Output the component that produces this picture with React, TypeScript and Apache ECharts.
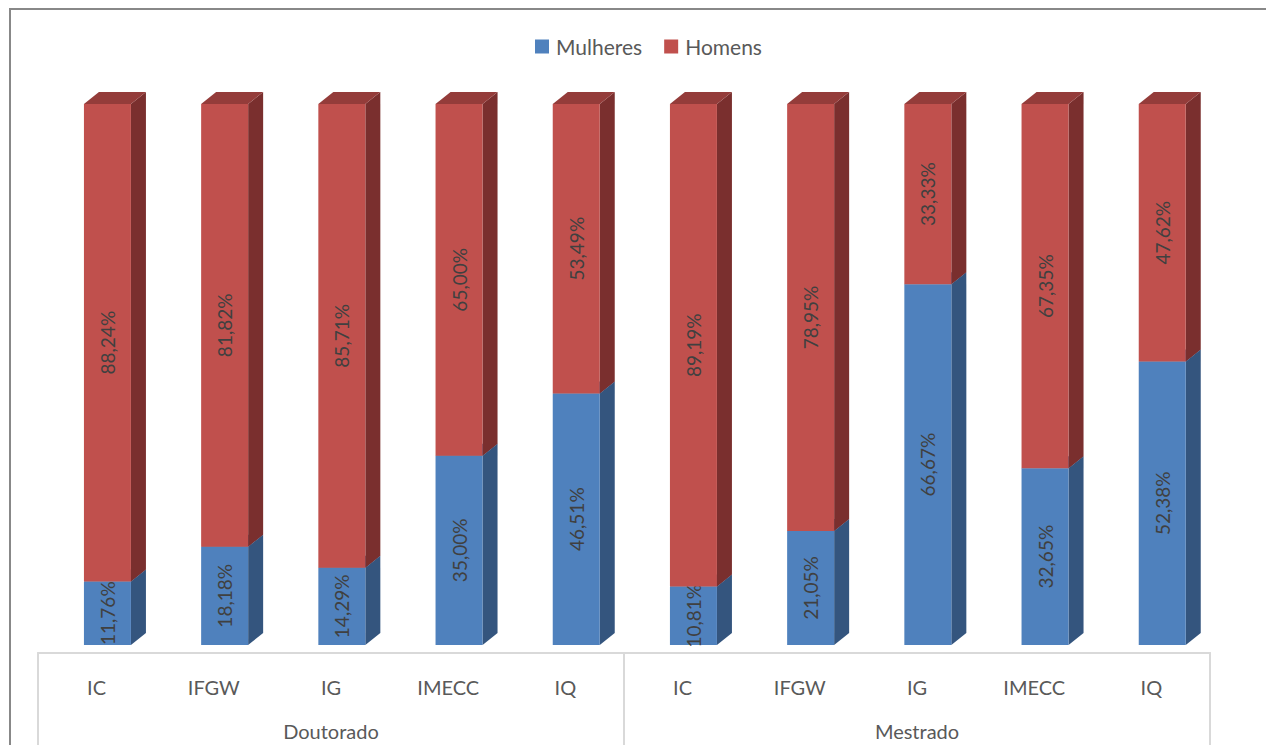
import React, { useEffect, useRef } from "react";
import * as echarts from "echarts";

const categories = ["IC", "IFGW", "IG", "IMECC", "IQ", "IC", "IFGW", "IG", "IMECC", "IQ"];
const groups = ["Doutorado", "Mestrado"];
const mulheres = [11.76, 18.18, 14.29, 35.0, 46.51, 10.81, 21.05, 66.67, 32.65, 52.38];
const homens = [88.24, 81.82, 85.71, 65.0, 53.49, 89.19, 78.95, 33.33, 67.35, 47.62];

const FONT = "Lato, 'Open Sans', sans-serif";

const fmt = (v: number) => v.toFixed(2).replace(".", ",") + "%";

function makeRender(front: string, side: string, top: string) {
  return (params: any, api: any) => {
    const i = api.value(0);
    const start = api.value(1);
    const end = api.value(2);
    const val = api.value(3);
    const band = api.size([1, 0])[0];
    const [cx, y0] = api.coord([i, start]);
    const [, y1] = api.coord([i, end]);
    const w = band * 0.401;
    const x0 = cx - band * 0.108;
    const dx = band * 0.128;
    const dy = 12;
    return {
      type: "group",
      children: [
        {
          type: "polygon",
          shape: { points: [[x0 + w, y0], [x0 + w + dx, y0 - dy], [x0 + w + dx, y1 - dy], [x0 + w, y1]] },
          style: { fill: side },
        },
        {
          type: "polygon",
          shape: { points: [[x0, y1], [x0 + w, y1], [x0 + w + dx, y1 - dy], [x0 + dx, y1 - dy]] },
          style: { fill: top },
        },
        {
          type: "rect",
          shape: { x: x0, y: y1, width: w, height: y0 - y1 },
          style: { fill: front },
        },
        {
          type: "text",
          x: x0 + w / 2,
          y: (y0 + y1) / 2,
          rotation: Math.PI / 2,
          style: {
            text: fmt(val),
            align: "center",
            verticalAlign: "middle",
            fill: "#404040",
            fontSize: 19,
            fontFamily: FONT,
          },
        },
      ],
    };
  };
}

export default function App() {
  const ref = useRef<HTMLDivElement>(null);
  useEffect(() => {
    if (!ref.current) return;
    const chart = echarts.init(ref.current, undefined, { renderer: "svg" });
    const mData = mulheres.map((v, i) => [i, 0, v, v]);
    const hData = homens.map((v, i) => [i, mulheres[i], mulheres[i] + v, v]);
    chart.setOption({
      animation: false,
      textStyle: { fontFamily: FONT },
      graphic: [
        {
          type: "rect",
          shape: { x: 10, y: 9, width: 1400, height: 900 },
          style: { fill: "none", stroke: "#888888", lineWidth: 2 },
          silent: true,
        },
      ],
      legend: {
        left: 530,
        top: 31,
        itemWidth: 14,
        itemHeight: 14,
        itemGap: 22,
        icon: "rect",
        textStyle: { color: "#595959", fontSize: 21, fontFamily: FONT, padding: [0, 0, 0, 2] },
        data: ["Mulheres", "Homens"],
      },
      grid: { left: 38, right: 56, top: 104, bottom: 100 },
      xAxis: [
        {
          type: "category",
          data: categories,
          position: "bottom",
          offset: 8,
          axisLine: { show: true, onZero: false, lineStyle: { color: "#d9d9d9", width: 2 } },
          axisTick: { show: false },
          axisLabel: { color: "#595959", fontSize: 20, fontFamily: FONT, margin: 24, interval: 0 },
        },
        {
          type: "category",
          data: groups,
          position: "bottom",
          offset: 8,
          axisLine: { show: true, onZero: false, lineStyle: { color: "#d9d9d9", width: 2 } },
          axisTick: { show: true, length: 100, lineStyle: { color: "#d9d9d9", width: 2 } },
          axisLabel: { color: "#595959", fontSize: 20, fontFamily: FONT, margin: 68 },
        },
      ],
      yAxis: { type: "value", min: 0, max: 100, show: false },
      series: [
        {
          name: "Mulheres",
          type: "custom",
          xAxisIndex: 0,
          itemStyle: { color: "#4F81BD" },
          encode: { x: 0, y: [1, 2] },
          renderItem: makeRender("#4F81BD", "#34557E", "#3F689A"),
          data: mData,
        },
        {
          name: "Homens",
          type: "custom",
          xAxisIndex: 0,
          itemStyle: { color: "#C0504D" },
          encode: { x: 0, y: [1, 2] },
          renderItem: makeRender("#C0504D", "#7A2F2E", "#943C3A"),
          data: hData,
        },
      ],
    });
    return () => chart.dispose();
  }, []);
  return (
    <div
      ref={ref}
      style={{ position: "absolute", left: 0, top: 0, width: 1266, height: 745 }}
    />
  );
}
